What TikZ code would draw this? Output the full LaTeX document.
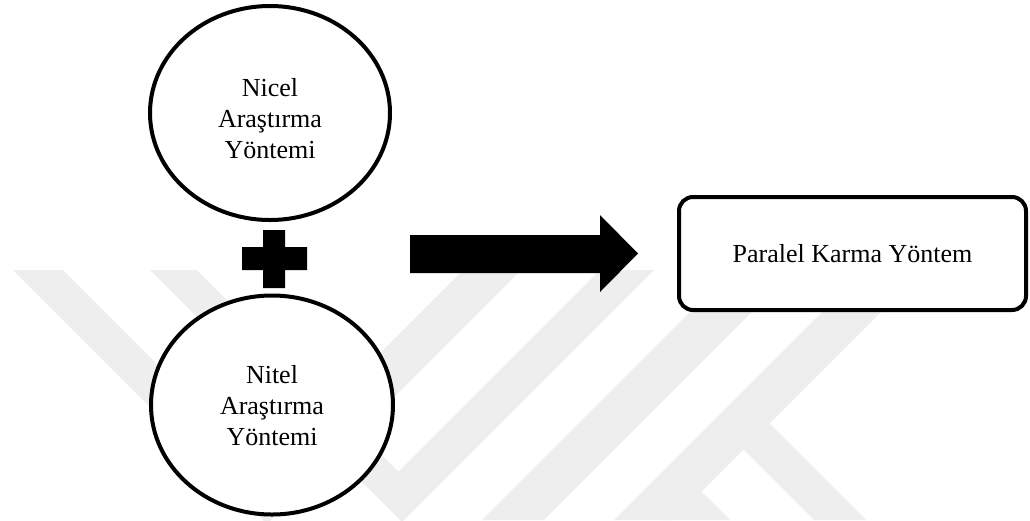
\documentclass[tikz,border=0pt]{standalone}
\usepackage{fontspec}
\setmainfont{Liberation Serif}
\usetikzlibrary{shapes.geometric}
\definecolor{wmgray}{RGB}{238,238,238}
\begin{document}
\begin{tikzpicture}[x=1pt,y=-1pt,
  method/.style={ellipse, draw, line width=4pt, fill=white, inner sep=0pt},
  methodtext/.style={align=center, font=\fontsize{26}{31}\selectfont, inner sep=0pt},
  resultbox/.style={rectangle, rounded corners=14pt, draw, line width=4pt, fill=white,
    minimum width=347pt, minimum height=113pt, inner sep=0pt,
    font=\fontsize{26}{31}\selectfont},
  wm/.style={fill=wmgray},
  solidshape/.style={fill=black}]
\useasboundingbox (0,0) rectangle (1030,520);

% faint background logo stripes
\begin{scope}
  \clip (0,0) rectangle (1030,520);
  \fill[wm] (13,270) -- (267,524) -- (521,270) -- (463,270) -- (263,470) -- (63,270) -- cycle;
  \fill[wm] (150,270) -- (402,522) -- (654,270) -- (600,270) -- (398.5,471.5) -- (197,270) -- cycle;
  \fill[wm] (732,270) -- (794,270) -- (544,520) -- (482,520) -- cycle;
  \fill[wm] (864,270) -- (923,270) -- (673,520) -- (614,520) -- cycle;
  \fill[wm] (769.5,423.5) -- (866,520) -- (814,520) -- (743.5,449.5) -- cycle;
  \fill[wm] (701.5,491.5) -- (730,520) -- (660,520) -- cycle;
\end{scope}

% the two research methods
\node[method, minimum width=240pt, minimum height=214pt] (nicel) at (270,113) {};
\node[methodtext] (niceltext) at (270,119) {Nicel\\Araştırma\\Yöntemi};
\node[method, minimum width=242pt, minimum height=219pt] (nitel) at (272,405) {};
\node[methodtext] (niteltext) at (272,406) {Nitel\\Araştırma\\Yöntemi};

% plus sign between them
\fill[solidshape] (263,230) -- (285,230) -- (285,247) -- (307,247) -- (307,270) -- (285,270)
  -- (285,288) -- (263,288) -- (263,270) -- (242,270) -- (242,247) -- (263,247) -- cycle;

% block arrow
\fill[solidshape] (410,235) -- (600,235) -- (600,215) -- (638,253.5) -- (600,292) -- (600,273)
  -- (410,273) -- cycle;

% result
\node[resultbox] (karma) at (852.5,253.5) {Paralel Karma Yöntem};
\end{tikzpicture}
\end{document}
